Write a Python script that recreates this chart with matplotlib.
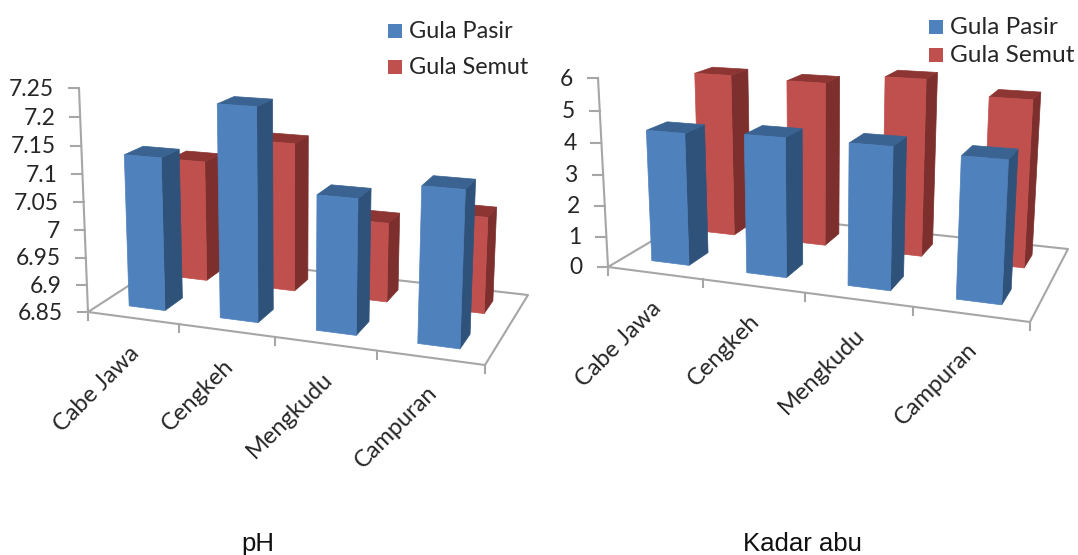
import numpy as np
import matplotlib
matplotlib.use('Agg')
import matplotlib.pyplot as plt
from matplotlib.patches import Polygon, Rectangle

categories = ['Cabe Jawa', 'Cengkeh', 'Mengkudu', 'Campuran']
series_names = ['Gula Pasir', 'Gula Semut']

ph_pasir = [7.127, 7.228, 7.087, 7.118]
ph_semut = [7.08, 7.128, 6.997, 7.025]
ph_ticks = [6.85, 6.9, 6.95, 7, 7.05, 7.1, 7.15, 7.2, 7.25]
ph_tick_labels = ['6.85', '6.9', '6.95', '7', '7.05', '7.1', '7.15', '7.2', '7.25']

abu_pasir = [4.26, 4.38, 4.38, 4.27]
abu_semut = [5.51, 5.45, 5.77, 5.34]
abu_ticks = [0, 1, 2, 3, 4, 5, 6]
abu_tick_labels = ['0', '1', '2', '3', '4', '5', '6']

BLUE = ('#4F81BD', '#2F527B', '#3A6391')
RED = ('#C0504D', '#7D2F2D', '#8C3533')
GREY = '#A6A6A6'
TEXT = '#262626'
FONT = 'Lato'


def make_projection(corners, axis_top, vanish):
    """Builds a perspective map (u, v, h) -> pixel from the floor corners of the chart box."""
    uv = [(0, 0), (4, 0), (4, 2), (0, 2)]
    A, b = [], []
    for (u, v), (x, y) in zip(uv, corners):
        A.append([u, v, 1, 0, 0, 0, -u * x, -v * x])
        A.append([0, 0, 0, u, v, 1, -u * y, -v * y])
        b += [x, y]
    s = np.linalg.solve(np.array(A, float), np.array(b, float))
    H = np.array([[s[0], s[1], s[2]], [s[3], s[4], s[5]], [s[6], s[7], 1.0]])
    lam = (corners[0][1] - axis_top[1]) / (axis_top[1] - vanish[1])
    up = lam * np.array([vanish[0], vanish[1], 1.0])

    def project(u, v, h):
        p = H @ np.array([u, v, 1.0]) + h * up
        return p[0] / p[2], p[1] / p[2]
    return project


def draw_bar(ax, proj, i, s, h, colors):
    u0, u1 = i + 0.3, i + 0.7
    v0, v1 = s + 0.3, s + 0.7
    front = [proj(u0, v0, 0), proj(u1, v0, 0), proj(u1, v0, h), proj(u0, v0, h)]
    side = [proj(u1, v0, 0), proj(u1, v1, 0), proj(u1, v1, h), proj(u1, v0, h)]
    top = [proj(u0, v0, h), proj(u1, v0, h), proj(u1, v1, h), proj(u0, v1, h)]
    for pts, col in zip((side, top, front), (colors[1], colors[2], colors[0])):
        ax.add_patch(Polygon(pts, closed=True, facecolor=col, edgecolor=col, linewidth=0.5, zorder=3))


def draw_panel(ax, proj, pasir, semut, ticks, tick_labels, title, title_x, legend_pos, legend_gap, legend_size):
    lo, hi = ticks[0], ticks[-1]

    # floor and value axis
    floor = [proj(0, 0, 0), proj(4, 0, 0), proj(4, 2, 0), proj(0, 2, 0), proj(0, 0, 0)]
    ax.plot(*zip(*floor), color=GREY, lw=1.5, solid_capstyle='round', zorder=2)
    ax.plot(*zip(proj(0, 0, 0), proj(0, 0, 1)), color=GREY, lw=1.5, zorder=2)

    for t, lab in zip(ticks, tick_labels):
        x, y = proj(0, 0, (t - lo) / (hi - lo))
        ax.plot([x - 10, x], [y, y], color=GREY, lw=1.5, zorder=2)
        ax.text(x - 25, y + 1, lab, ha='right', va='center', fontsize=16.4,
                family=FONT, color=TEXT)

    for i in range(5):
        x, y = proj(i, 0, 0)
        ax.plot([x, x], [y, y + 8], color=GREY, lw=1.5, zorder=2)

    # back row first, then the front row on top
    for i, val in enumerate(semut):
        draw_bar(ax, proj, i, 1, (val - lo) / (hi - lo), RED)
    for i, val in enumerate(pasir):
        draw_bar(ax, proj, i, 0, (val - lo) / (hi - lo), BLUE)

    for i, cat in enumerate(categories):
        x, y = proj(i + 0.5, 0, 0)
        ax.text(x + 3, y + 32, cat, rotation=45, rotation_mode='anchor', ha='right', va='center',
                fontsize=17, family=FONT, color=TEXT)

    lx, ly = legend_pos
    for k, name in enumerate(series_names):
        col = (BLUE, RED)[k][0]
        ax.add_patch(Rectangle((lx, ly + k * legend_gap), 14, 14, facecolor=col, edgecolor='none'))
        ax.text(lx + 21, ly + 8 + k * legend_gap, name, ha='left', va='center', fontsize=legend_size,
                family=FONT, color=TEXT)

    ax.text(title_x, 544, title, ha='center', va='center', fontsize=18.5,
            family='Liberation Sans', color='#111111')


fig = plt.figure(figsize=(10.78, 5.55), dpi=100)
ax = fig.add_axes([0, 0, 1, 1])
ax.set_xlim(0, 1078)
ax.set_ylim(555, 0)
ax.axis('off')

proj_ph = make_projection([(88, 312), (485, 365), (528, 295), (176, 255)], (79, 88), (291, 5360))
proj_abu = make_projection([(608, 267), (1030, 322), (1068, 249), (704, 210)], (598, 78), (818, 4240))

draw_panel(ax, proj_ph, ph_pasir, ph_semut, ph_ticks, ph_tick_labels, 'pH', 258, (388, 24), 36, 16.9)
draw_panel(ax, proj_abu, abu_pasir, abu_semut, abu_ticks, abu_tick_labels, 'Kadar abu', 802, (929, 20), 28, 17.6)

fig.savefig('out.png', dpi=100)
